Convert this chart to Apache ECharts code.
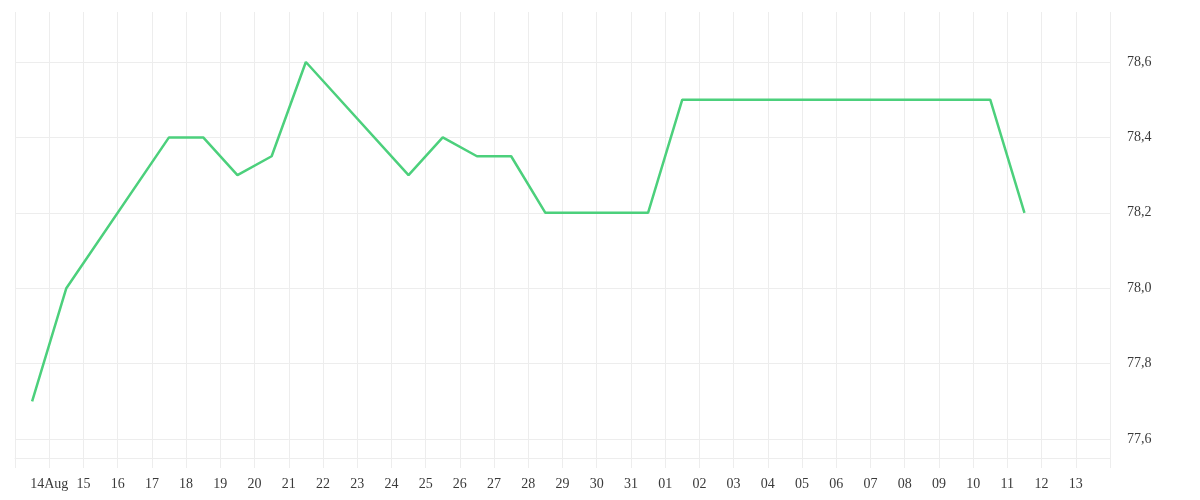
<!DOCTYPE html>
<html>
<head>
<meta charset="utf-8">
<script src="https://cdn.jsdelivr.net/npm/echarts@6/dist/echarts.min.js"></script>
<style>
html,body{margin:0;padding:0;background:#fff;}
#chart{width:1200px;height:500px;}
</style>
</head>
<body>
<div id="chart"></div>
<script>
// Daily bands (one band per calendar day) on the time scale
const bandDays = [
  '2025-08-14','2025-08-15','2025-08-16','2025-08-17','2025-08-18','2025-08-19','2025-08-20','2025-08-21',
  '2025-08-22','2025-08-23','2025-08-24','2025-08-25','2025-08-26','2025-08-27','2025-08-28','2025-08-29',
  '2025-08-30','2025-08-31','2025-09-01','2025-09-02','2025-09-03','2025-09-04','2025-09-05','2025-09-06',
  '2025-09-07','2025-09-08','2025-09-09','2025-09-10','2025-09-11','2025-09-12','2025-09-13','2025-09-14'
];
// Tick labels at the day boundaries
const tickLabels = [
  '', '14Aug', '15', '16', '17', '18', '19', '20', '21', '22', '23', '24', '25', '26', '27', '28', '29', '30', '31',
  '01', '02', '03', '04', '05', '06', '07', '08', '09', '10', '11', '12', '13', ''
];
// Observations (business days)
const dates = [
  '2025-08-14','2025-08-15','2025-08-18','2025-08-19','2025-08-20','2025-08-21','2025-08-22',
  '2025-08-25','2025-08-26','2025-08-27','2025-08-28','2025-08-29',
  '2025-09-01','2025-09-02','2025-09-03','2025-09-04','2025-09-05',
  '2025-09-08','2025-09-09','2025-09-10','2025-09-11','2025-09-12'
];
const values = [
  77.7, 78.0, 78.4, 78.4, 78.3, 78.35, 78.6,
  78.3, 78.4, 78.35, 78.35, 78.2,
  78.2, 78.5, 78.5, 78.5, 78.5,
  78.5, 78.5, 78.5, 78.5, 78.2
];

const gridColor = '#ededed';
const textStyle = { color: '#3a3a3a', fontFamily: 'Liberation Serif', fontSize: 14 };

const chart = echarts.init(document.getElementById('chart'), null, { renderer: 'canvas' });
chart.setOption({
  animation: false,
  backgroundColor: '#ffffff',
  grid: { left: 15, right: 90, top: 12, bottom: 42, containLabel: false },
  xAxis: [
    {
      type: 'category',
      data: tickLabels,
      boundaryGap: false,
      position: 'bottom',
      axisLine: { show: true, lineStyle: { color: gridColor, width: 1 } },
      axisTick: { show: true, length: 10, interval: 0, lineStyle: { color: gridColor } },
      splitLine: { show: true, interval: 0, lineStyle: { color: gridColor, width: 1 } },
      axisLabel: Object.assign({ interval: 0, margin: 19 }, textStyle)
    },
    {
      type: 'category',
      data: bandDays,
      boundaryGap: true,
      position: 'top',
      show: false
    }
  ],
  yAxis: {
    type: 'value',
    position: 'right',
    min: 77.5497,
    max: 78.7326,
    splitNumber: 5,
    minInterval: 0.2,
    maxInterval: 0.2,
    axisLine: { show: false },
    axisTick: { show: false },
    splitLine: { show: true, showMinLine: false, showMaxLine: false, lineStyle: { color: gridColor, width: 1 } },
    axisLabel: Object.assign({
      margin: 17,
      padding: [3, 0, 0, 0],
      showMinLabel: false,
      showMaxLabel: false,
      formatter: v => v.toFixed(1).replace('.', ',')
    }, textStyle)
  },
  series: [{
    type: 'line',
    xAxisIndex: 1,
    data: dates.map((d, i) => [d, values[i]]),
    showSymbol: false,
    symbol: 'none',
    lineStyle: { color: '#4cd07c', width: 2.5 },
    itemStyle: { color: '#4cd07c' }
  }]
});
</script>
</body>
</html>
